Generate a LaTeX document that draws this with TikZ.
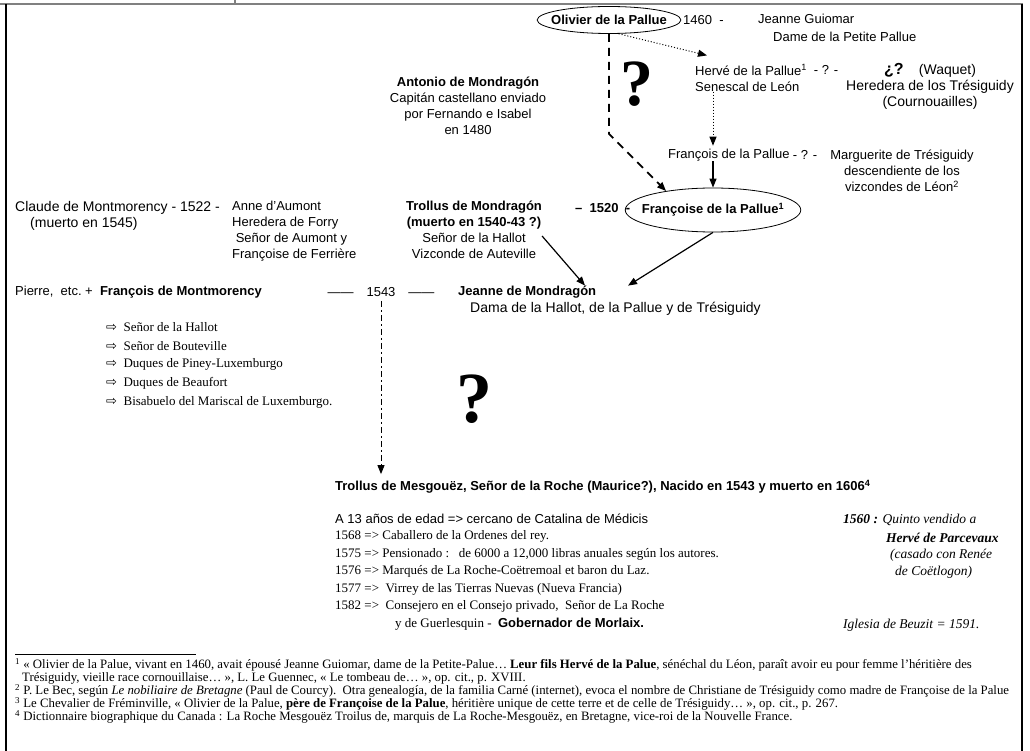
\documentclass[tikz,border=0pt]{standalone}
\usepackage{fontspec}
\setmainfont{Liberation Serif}
\setsansfont{Liberation Sans}
\newfontfamily\arrowfont{DejaVu Sans}
\usetikzlibrary{arrows.meta,shapes.geometric}

\newcommand{\hollowarrow}{{\arrowfont\char"21E8}}

\tikzset{
  txt/.style={font=\sffamily\fontsize{13}{16}\selectfont,inner sep=0pt,align=center},
  txtl/.style={font=\sffamily\fontsize{14}{16}\selectfont,inner sep=0pt,align=center},
  txtb/.style={font=\sffamily\bfseries\fontsize{13}{16}\selectfont,inner sep=0pt,align=center},
  serif/.style={font=\rmfamily\fontsize{13}{17.5}\selectfont,inner sep=0pt,anchor=west},
  side/.style={serif,font=\rmfamily\itshape\fontsize{13.5}{16}\selectfont},
  fnote/.style={font=\rmfamily\fontsize{12.8}{13}\selectfont,inner sep=0pt,anchor=west},
  person/.style={draw,ellipse,line width=.8pt,inner ysep=0pt},
  bigq/.style={font=\rmfamily\bfseries\fontsize{66}{66}\selectfont,inner sep=0pt},
  tip/.style={-{Triangle[length=9pt,width=7pt]}},
  kin/.style={tip,line width=1.2pt},
  maybe/.style={tip,dotted,line width=1pt},
  guess/.style={tip,line width=1.8pt,dash pattern=on 8pt off 6pt},
  heir/.style={tip,line width=1pt,dash pattern=on 6pt off 3pt on 2pt off 3pt}
}

\begin{document}
\begin{tikzpicture}[x=1pt,y=-1pt]
  \useasboundingbox (0,0) rectangle (1030,751);
  % page frame
  \draw[gray,line width=2pt] (0,4) -- (1023,4);
  \draw[gray,line width=1.5pt] (235,0) -- (235,4);
  \draw[line width=1.5pt] (6,4) -- (6,751);
  \draw[line width=1.5pt] (1022,4) -- (1022,751);

  % la Palue
  \node[person,txtb,inner xsep=-7pt,minimum height=27pt] (olivier) at (609,20) {Olivier de la Pallue};
  \node[txt,anchor=west] (y1460) at (683,20) {1460\ \ -};
  \node[txt,anchor=west] (jeanneg) at (758,19) {Jeanne Guiomar};
  \node[txt,anchor=west] (dame) at (773,37) {Dame de la Petite Pallue};
  \node[bigq] (q1) at (637,84) {?};

  \node[txt] (antonio) at (468,106) {\textbf{Antonio de Mondragón}\\Capitán castellano enviado\\por Fernando e Isabel\\en 1480};

  \node[txt,anchor=west,align=left] (herve) at (695,78) {Hervé de la Pallue\textsuperscript{1}\\Senescal de León};
  \node[txt] (q2) at (826,70) {- ? -};
  \node[txtl] (waquet) at (930,86) {{\bfseries\fontsize{16}{16}\selectfont ¿?}\hspace{1.1em}(Waquet)\\Heredera de los Trésiguidy\\(Cournouailles)};

  \node[txt,anchor=west] (francois) at (668,155) {François de la Pallue};
  \node[txt] (q3) at (805,155) {- ? -};
  \node[txt] (marguerite) at (902,171) {Marguerite de Trésiguidy\\descendiente de los\\vizcondes de Léon\textsuperscript{2}};

  \node[person,txtb,inner xsep=-9pt,minimum height=44pt] (francoise) at (713,210) {Françoise de la Pallue\textsuperscript{1}};
  \node[txtb,anchor=west] (y1520) at (575,208) {--\ \ 1520\ \ -};

  % Mondragón and Montmorency
  \node[txt,anchor=north] (trollus) at (474,201) {\textbf{Trollus de Mondragón}\\\textbf{(muerto en 1540-43 ?)}\\Señor de la Hallot\\Vizconde de Auteville};
  \node[txtl,anchor=west] (claude) at (15,208) {Claude de Montmorency - 1522 -};
  \node[txtl,anchor=west] (muerto) at (30,224) {(muerto en 1545)};
  \node[txt,anchor=north west,align=left] (anne) at (232,201) {Anne d'Aumont\\Heredera de Forry\\\ Señor de Aumont y\\Françoise de Ferrière};

  \node[txt,anchor=west] (pierre) at (15,292) {Pierre,\ \ etc.};
  \node[txt,anchor=west] (francoism) at (85,292) {+\ \ \textbf{François de Montmorency}};
  \node[txt] (y1543) at (381,292) {——\hspace{1em}1543\hspace{1em}——};
  \node[txtb,anchor=west] (jeanne) at (458,292) {Jeanne de Mondragón};
  \node[txtl,anchor=west] (dama) at (470,309) {Dama de la Hallot, de la Pallue y de Trésiguidy};

  \foreach \t [count=\i] in {Señor de la Hallot,Señor de Bouteville,Duques de Piney-Luxemburgo,Duques de Beaufort,Bisabuelo del Mariscal de Luxemburgo.}
    \node[serif] (title\i) at (106,{308+18.8*\i}) {\hollowarrow\ \ \t};
  \node[bigq,font=\rmfamily\bfseries\fontsize{72}{72}\selectfont] (q4) at (474,399) {?};

  % Mesgouëz
  \node[txtb,anchor=west] (mesgouez) at (335,487) {Trollus de Mesgouëz, Señor de la Roche (Maurice?), Nacido en 1543 y muerto en 1606\textsuperscript{4}};
  \node[txt,anchor=west] (edad) at (335,519) {A 13 años de edad => cercano de Catalina de Médicis};
  \node[serif] (e1568) at (335,536) {1568 => Caballero de la Ordenes del rey.};
  \node[serif] (e1575) at (335,554) {1575 => Pensionado :\ \ \ de 6000 a 12,000 libras anuales según los autores.};
  \node[serif] (e1576) at (335,571) {1576 => Marqués de La Roche-Coëtremoal et baron du Laz.};
  \node[serif] (e1577) at (335,589) {1577 =>\ \ Virrey de las Tierras Nuevas (Nueva Francia)};
  \node[serif] (e1582) at (335,606) {1582 =>\ \ Consejero en el Consejo privado,\ \ Señor de La Roche};
  \node[serif] (e1582b) at (395,624) {y de Guerlesquin -\ \ \textsf{\bfseries Gobernador de Morlaix.}};

  \node[side] (quinto) at (843,520) {\textbf{1560 :} Quinto vendido a};
  \node[side,font=\rmfamily\itshape\bfseries\fontsize{13.5}{16}\selectfont] (parcevaux) at (886,538) {Hervé de Parcevaux};
  \node[side] (casado) at (890,555) {(casado con Renée};
  \node[side] (coetlogon) at (895,572) {de Coëtlogon)};
  \node[side] (iglesia) at (843,625) {Iglesia de Beuzit = 1591.};

  % footnotes
  \draw[line width=.6pt] (15,654) -- (196,654);
  \node[fnote] (fn1) at (15,665) {\textsuperscript{1} « Olivier de la Palue, vivant en 1460, avait épousé Jeanne Guiomar, dame de la Petite-Palue… \textbf{Leur fils Hervé de la Palue}, sénéchal du Léon, paraît avoir eu pour femme l'héritière des};
  \node[fnote] (fn1b) at (22,678) {Trésiguidy, vieille race cornouillaise… », L. Le Guennec, « Le tombeau de… », op. cit., p. XVIII.};
  \node[fnote] (fn2) at (15,691) {\textsuperscript{2} P. Le Bec, según \textit{Le nobiliaire de Bretagne} (Paul de Courcy).\ \ Otra genealogía, de la familia Carné (internet), evoca el nombre de Christiane de Trésiguidy como madre de Françoise de la Palue};
  \node[fnote] (fn3) at (15,704) {\textsuperscript{3} Le Chevalier de Fréminville, « Olivier de la Palue, \textbf{père de Françoise de la Palue}, héritière unique de cette terre et de celle de Trésiguidy… », op. cit., p. 267.};
  \node[fnote] (fn4) at (15,717) {\textsuperscript{4} Dictionnaire biographique du Canada : La Roche Mesgouëz Troilus de, marquis de La Roche-Mesgouëz, en Bretagne, vice-roi de la Nouvelle France.};

  % connectors
  \draw[maybe] (olivier.-55) -- ([xshift=12pt,yshift=9pt]herve.north west);
  \draw[guess] (olivier.south) -- ++(0,100) -- (francoise.158);
  \draw[maybe,shorten >=3pt] (herve.south -| francoise.north) -- (francois.north -| francoise.north);
  \draw[kin] (francois.south -| francoise.north) -- (francoise.north);
  \draw[kin] ([yshift=-6pt]trollus.east) -- ([xshift=127pt]jeanne.north west);
  \draw[kin] (francoise.south) -- ([xshift=170pt]jeanne.north west);
  \draw[heir] ([yshift=-4pt]y1543.south) -- ([yshift=6pt]mesgouez.north -| y1543.south);
\end{tikzpicture}
\end{document}
